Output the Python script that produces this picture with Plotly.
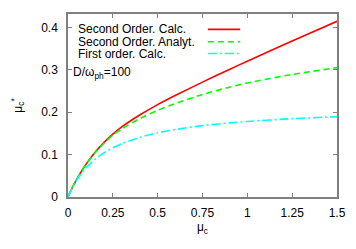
import plotly.graph_objects as go

mu_c = [0, 0.025, 0.05, 0.1, 0.15, 0.2, 0.25, 0.3, 0.4, 0.5, 0.6, 0.75, 0.9, 1.0, 1.25, 1.5]
second_calc = [0, 0.023, 0.043, 0.077, 0.105, 0.1285, 0.1485, 0.1655, 0.1935, 0.218, 0.240, 0.2712, 0.3012, 0.3207, 0.3682, 0.4147]
second_analyt = [0, 0.023, 0.043, 0.077, 0.104, 0.127, 0.146, 0.161, 0.185, 0.2045, 0.221, 0.242, 0.2593, 0.2693, 0.2893, 0.3055]
first_calc = [0, 0.0224, 0.0406, 0.0685, 0.0887, 0.1041, 0.1162, 0.1260, 0.1407, 0.1515, 0.1594, 0.1685, 0.1749, 0.1784, 0.1849, 0.1897]

names = ["Second Order. Calc.", "Second Order. Analyt.", "First order. Calc."]
colors = ["#ff0000", "#00ff00", "#00ffff"]
dashes = ["solid", "6px,4px", "9px,3px,2px,3px"]
x_ticks = [0, 0.25, 0.5, 0.75, 1, 1.25, 1.5]
x_ticktext = ["0", "0.25", "0.5", "0.75", "1", "1.25", "1.5"]
y_ticks = [0, 0.1, 0.2, 0.3, 0.4]
y_ticktext = ["0", "0.1", "0.2", "0.3", "0.4"]

FONT = "Liberation Sans, Arial, sans-serif"
FS = 12

fig = go.Figure()
for ys, nm, c, d in zip([second_calc, second_analyt, first_calc], names, colors, dashes):
    fig.add_trace(go.Scatter(x=mu_c, y=ys, mode="lines", name=nm, showlegend=False,
                             line=dict(color=c, width=1.6, dash=d, shape="spline", smoothing=0.6)))

# gnuplot-style legend: text on the left, sample on the right
leg_y = [0.916, 0.848, 0.784]
for i, (nm, c, d) in enumerate(zip(names, colors, dashes)):
    fig.add_annotation(x=0.033, y=leg_y[i], xref="paper", yref="paper", text=nm,
                       showarrow=False, xanchor="left", yanchor="middle", borderpad=0,
                       font=dict(family=FONT, size=FS, color="#000"))
    fig.add_shape(type="line", xref="paper", yref="paper", x0=0.52, x1=0.64,
                  y0=leg_y[i], y1=leg_y[i], line=dict(color=c, width=1.6, dash=d))

fig.add_annotation(x=0.016, y=0.68, xref="paper", yref="paper",
                   text="D/ω<sub>ph</sub>=100", showarrow=False, xanchor="left", yanchor="middle",
                   borderpad=0, font=dict(family=FONT, size=FS, color="#000"))

axis_common = dict(showline=True, linecolor="#808080", linewidth=1.5, mirror="ticks",
                   ticks="inside", ticklen=4, tickcolor="#808080", tickwidth=1,
                   showgrid=False, zeroline=False, automargin=False,
                   tickfont=dict(family=FONT, size=FS, color="#000"))

fig.update_xaxes(range=[0, 1.5], tickvals=x_ticks, ticktext=x_ticktext,
                 title=dict(text="μ<sub>c</sub>", font=dict(family=FONT, size=FS, color="#000"), standoff=1),
                 ticklabelstandoff=4, **axis_common)
fig.update_yaxes(range=[0, 0.432], tickvals=y_ticks, ticktext=y_ticktext,
                 title=dict(text="μ<sub>c</sub><sup>*</sup>", font=dict(family=FONT, size=FS, color="#000"), standoff=16),
                 ticklabelstandoff=6, **axis_common)

fig.update_layout(width=356, height=249, margin=dict(l=68, r=19, t=14, b=52),
                  paper_bgcolor="white", plot_bgcolor="white", showlegend=False)

fig.write_html("out.html", config={"displayModeBar": False},
               post_script="document.body.style.margin='0';")
